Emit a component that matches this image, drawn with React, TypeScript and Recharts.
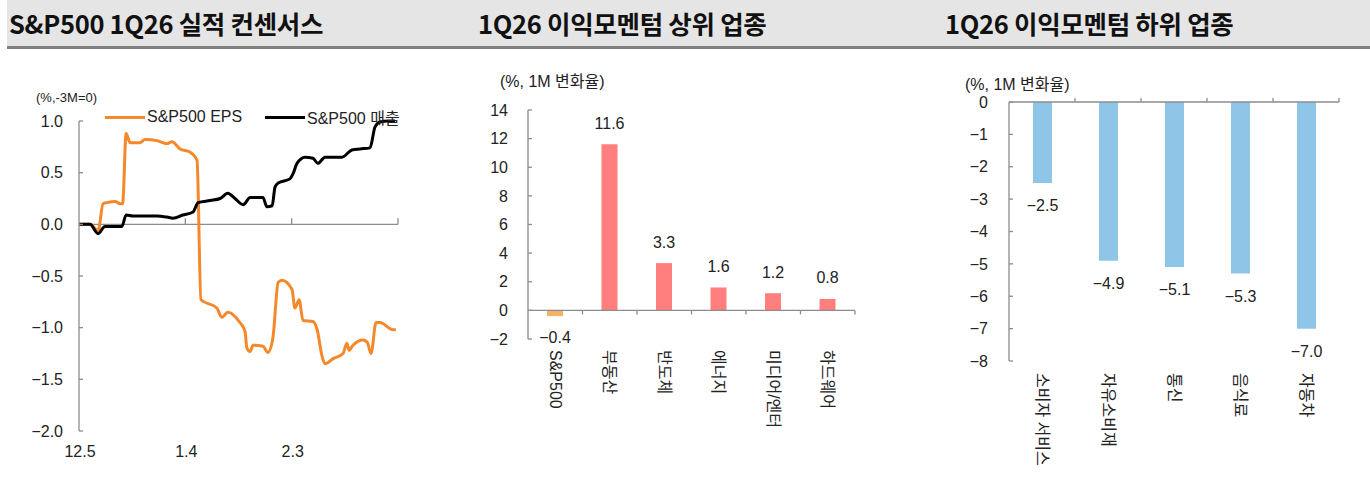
import React from "react";
import {
  LineChart,
  Line,
  BarChart,
  Bar,
  Cell,
  XAxis,
  YAxis,
  ReferenceLine,
  LabelList,
} from "recharts";

// 좌측: S&P500 1Q26 EPS / 매출 컨센서스 변화 (12.5 기준 경과일)
const epsDay = [0, 3.1, 5.4, 6.8, 7.9, 10.2, 11.6, 12.3, 13.3, 14.4, 17.2, 18.6, 22, 24.8, 26.2, 28.5, 31.3, 33.3, 34.4, 38.9, 40.3, 42, 45.4, 46.8, 47.4, 48.3, 49.1, 51.9, 53.3, 54.7, 56.2, 57.3, 60.1, 60.9, 62.1, 63.2, 66, 67.2, 68.6, 69.4, 71.7, 74.5, 75.6, 76.2, 77.3, 80.1, 81.3, 82.4, 83.8, 84.9, 88.6, 89.4];
const epsValue = [0, 0, -0.06, 0.2, 0.21, 0.22, 0.2, 0.2, 0.88, 0.79, 0.79, 0.82, 0.81, 0.78, 0.8, 0.73, 0.7, 0.62, -0.73, -0.81, -0.9, -0.85, -0.95, -1.03, -1.2, -1.23, -1.17, -1.18, -1.24, -1.1, -0.56, -0.54, -0.63, -0.81, -0.73, -0.93, -0.94, -1.02, -1.28, -1.35, -1.3, -1.25, -1.15, -1.22, -1.17, -1.12, -1.14, -1.25, -0.95, -0.95, -1.02, -1.02];
const revDay = [0, 3.1, 5.4, 7.3, 12.1, 13.3, 15.2, 22, 24.8, 26.5, 29.3, 32.2, 33.6, 37, 39.8, 42, 44, 46.3, 48.3, 51.9, 53, 54.5, 55.3, 56.2, 59.5, 60.4, 61.5, 63.8, 66, 67.4, 69.4, 74.2, 77, 79.3, 82.1, 83.5, 84.9, 87.2, 89.2];
const revValue = [0, 0, -0.09, -0.02, -0.02, 0.09, 0.08, 0.08, 0.07, 0.06, 0.09, 0.12, 0.21, 0.23, 0.25, 0.3, 0.25, 0.19, 0.26, 0.26, 0.17, 0.18, 0.36, 0.4, 0.44, 0.49, 0.59, 0.65, 0.64, 0.59, 0.65, 0.65, 0.72, 0.73, 0.74, 0.94, 0.99, 1.0, 1.0];
const dateTicks = [0, 30, 60, 90];
const dateLabels = ["12.5", "1.4", "2.3", ""];
const leftTicks = [-2, -1.5, -1, -0.5, 0, 0.5, 1];

// 가운데: 이익모멘텀 상위 업종
const topSectors = ["S&P500", "부동산", "반도체", "에너지", "미디어/엔터", "하드웨어"];
const topValues = [-0.4, 11.6, 3.3, 1.6, 1.2, 0.8];
const topTicks = [-2, 0, 2, 4, 6, 8, 10, 12, 14];

// 우측: 이익모멘텀 하위 업종
const bottomSectors = ["소비자 서비스", "자유소비재", "통신", "음식료", "자동차"];
const bottomValues = [-2.5, -4.9, -5.1, -5.3, -7.0];
const bottomTicks = [-8, -7, -6, -5, -4, -3, -2, -1, 0];

const epsData = epsDay.map((d, i) => ({ d, v: epsValue[i] }));
const revData = revDay.map((d, i) => ({ d, v: revValue[i] }));
const topData = topSectors.map((name, i) => ({ name, value: topValues[i] }));
const bottomData = bottomSectors.map((name, i) => ({ name, value: bottomValues[i] }));

const FONT = "'Liberation Sans', 'Noto Sans CJK KR', sans-serif";
const TEXT = "#222";
const AXIS = "#8c8c8c";

const minus = (s: string) => s.replace("-", "\u2212");
const fmt1 = (v: number) => minus(v.toFixed(1));

// 0 기준선 + 구간 눈금
const zeroAxis = (n: number, len: number) => (props: any) => {
  const { x1, y1, x2 } = props;
  const step = (x2 - x1) / n;
  return (
    <g>
      <line x1={x1} y1={y1} x2={x2} y2={y1} stroke={AXIS} strokeWidth={1.3} />
      {Array.from({ length: n }, (_, i) => (
        <line
          key={i}
          x1={x1 + step * (i + 1)}
          x2={x1 + step * (i + 1)}
          y1={y1}
          y2={y1 + len}
          stroke={AXIS}
          strokeWidth={1.3}
        />
      ))}
    </g>
  );
};

const verticalTick = (offset: number) => (props: any) => {
  const { x, y, payload } = props;
  return (
    <text
      transform={`translate(${x},${y + offset}) rotate(90)`}
      textAnchor="start"
      dominantBaseline="central"
      fill={TEXT}
      fontSize={16}
      fontFamily={FONT}
    >
      {payload.value}
    </text>
  );
};

const valueLabel = (gap: number) => (props: any) => {
  const { x, y, width, height, value } = props;
  const top = Math.min(y, y + height);
  const bot = Math.max(y, y + height);
  const cy = value >= 0 ? top - gap : bot + gap;
  return (
    <text
      x={x + width / 2}
      y={cy}
      textAnchor="middle"
      dominantBaseline="central"
      fill={TEXT}
      fontSize={16}
      fontFamily={FONT}
    >
      {fmt1(value)}
    </text>
  );
};

const dateTick = (props: any) => {
  const { x, y, payload } = props;
  const idx = dateTicks.indexOf(payload.value);
  return (
    <text x={x + 1} y={y + 26} textAnchor="middle" fill={TEXT} fontSize={16} fontFamily={FONT}>
      {dateLabels[idx]}
    </text>
  );
};

const titleStyle: React.CSSProperties = {
  position: "absolute",
  top: 0,
  height: 46,
  lineHeight: "46px",
  fontFamily: "'Noto Sans CJK KR', sans-serif",
  fontWeight: 700,
  fontSize: 25.5,
  color: "#111",
  whiteSpace: "nowrap",
  letterSpacing: "-0.3px",
};

const noteStyle = (left: number, top: number, size: number): React.CSSProperties => ({
  position: "absolute",
  left,
  top,
  fontSize: size,
  lineHeight: 1,
  fontFamily: FONT,
  color: TEXT,
  whiteSpace: "nowrap",
});

const LegendItem = ({ left, color, label }: { left: number; color: string; label: string }) => (
  <div style={{ position: "absolute", left, top: 108, height: 18, display: "flex", alignItems: "center" }}>
    <div style={{ width: 40, height: 3, background: color, marginRight: 2 }} />
    <span style={{ fontFamily: FONT, fontSize: 16, color: TEXT, whiteSpace: "nowrap" }}>{label}</span>
  </div>
);

const App = () => {
  return (
    <div
      style={{
        position: "absolute",
        left: 0,
        top: 0,
        width: 1370,
        height: 485,
        background: "#fff",
        overflow: "hidden",
        fontFamily: FONT,
      }}
    >
      {/* 제목 띠 */}
      <div
        style={{
          position: "absolute",
          left: 7,
          top: 0,
          width: 1363,
          height: 46,
          background: "#e5e5e5",
          borderBottom: "3px solid #7f7f7f",
        }}
      />
      <div style={{ ...titleStyle, left: 9 }}>S&amp;P500 1Q26 실적 컨센서스</div>
      <div style={{ ...titleStyle, left: 478 }}>1Q26 이익모멘텀 상위 업종</div>
      <div style={{ ...titleStyle, left: 945 }}>1Q26 이익모멘텀 하위 업종</div>

      {/* 좌측 라인 차트 */}
      <div style={{ position: "absolute", left: 0, top: 0 }}>
        <LineChart width={420} height={470} margin={{ top: 121, right: 22, bottom: 9, left: 39 }}>
          <XAxis
            type="number"
            dataKey="d"
            domain={[0, 90]}
            ticks={dateTicks}
            axisLine={false}
            tickLine={false}
            tickSize={0}
            tickMargin={0}
            height={30}
            tick={dateTick}
            interval={0}
          />
          <YAxis
            type="number"
            domain={[-2, 1]}
            ticks={leftTicks}
            width={40}
            axisLine={{ stroke: AXIS, strokeWidth: 1.3 }}
            tickLine={{ stroke: AXIS, strokeWidth: 1.3 }}
            tickSize={-4}
            tickMargin={20}
            tickFormatter={fmt1}
            tick={{ fill: TEXT, fontSize: 16, fontFamily: FONT }}
            interval={0}
          />
          <ReferenceLine y={0} shape={zeroAxis(3, -6)} />
          <Line
            data={epsData}
            dataKey="v"
            name="S&P500 EPS"
            type="monotone"
            stroke="#f5882a"
            strokeWidth={3}
            dot={false}
            isAnimationActive={false}
          />
          <Line
            data={revData}
            dataKey="v"
            name="S&P500 매출"
            type="monotone"
            stroke="#000"
            strokeWidth={3}
            dot={false}
            isAnimationActive={false}
          />
        </LineChart>
      </div>
      <div style={noteStyle(36, 91, 13)}>(%,-3M=0)</div>
      <LegendItem left={105} color="#f5882a" label="S&P500 EPS" />
      <LegendItem left={265} color="#000" label="S&P500 매출" />

      {/* 가운데 막대 차트 */}
      <div style={{ position: "absolute", left: 450, top: 0 }}>
        <BarChart
          width={430}
          height={470}
          data={topData}
          margin={{ top: 110, right: 25, bottom: 11, left: 38 }}
        >
          <XAxis
            dataKey="name"
            axisLine={false}
            tickLine={false}
            tickSize={0}
            tickMargin={0}
            height={120}
            interval={0}
            tick={verticalTick(11)}
          />
          <YAxis
            type="number"
            domain={[-2, 14]}
            ticks={topTicks}
            width={40}
            axisLine={{ stroke: AXIS, strokeWidth: 1.3 }}
            tickLine={{ stroke: AXIS, strokeWidth: 1.3 }}
            tickSize={-4}
            tickMargin={24}
            tick={{ fill: TEXT, fontSize: 16, fontFamily: FONT }}
            tickFormatter={(v: number) => minus(String(v))}
            interval={0}
          />
          <Bar dataKey="value" barSize={16} isAnimationActive={false}>
            {topData.map((e, i) => (
              <Cell key={e.name} fill={i === 0 ? "#f4b266" : "#ff7f7f"} />
            ))}
            <LabelList dataKey="value" content={valueLabel(21)} />
          </Bar>
          <ReferenceLine y={0} shape={zeroAxis(topSectors.length, 4)} />
        </BarChart>
      </div>
      <div style={noteStyle(500, 74, 16)}>(%, 1M 변화율)</div>

      {/* 우측 막대 차트 */}
      <div style={{ position: "absolute", left: 930, top: 0 }}>
        <BarChart
          width={440}
          height={485}
          data={bottomData}
          margin={{ top: 102, right: 31, bottom: 9, left: 39 }}
        >
          <XAxis
            dataKey="name"
            axisLine={false}
            tickLine={false}
            tickSize={0}
            tickMargin={0}
            height={115}
            interval={0}
            tick={verticalTick(12)}
          />
          <YAxis
            type="number"
            domain={[-8, 0]}
            ticks={bottomTicks}
            width={40}
            axisLine={{ stroke: AXIS, strokeWidth: 1.3 }}
            tickLine={{ stroke: AXIS, strokeWidth: 1.3 }}
            tickSize={-4}
            tickMargin={25}
            tick={{ fill: TEXT, fontSize: 16, fontFamily: FONT }}
            tickFormatter={(v: number) => minus(String(v))}
            interval={0}
          />
          <Bar dataKey="value" barSize={19} fill="#8fc6e8" isAnimationActive={false}>
            <LabelList dataKey="value" content={valueLabel(22.5)} />
          </Bar>
          <ReferenceLine y={0} shape={zeroAxis(bottomSectors.length, -4)} />
        </BarChart>
      </div>
      <div style={noteStyle(965, 77, 16)}>(%, 1M 변화율)</div>
    </div>
  );
};

export default App;
